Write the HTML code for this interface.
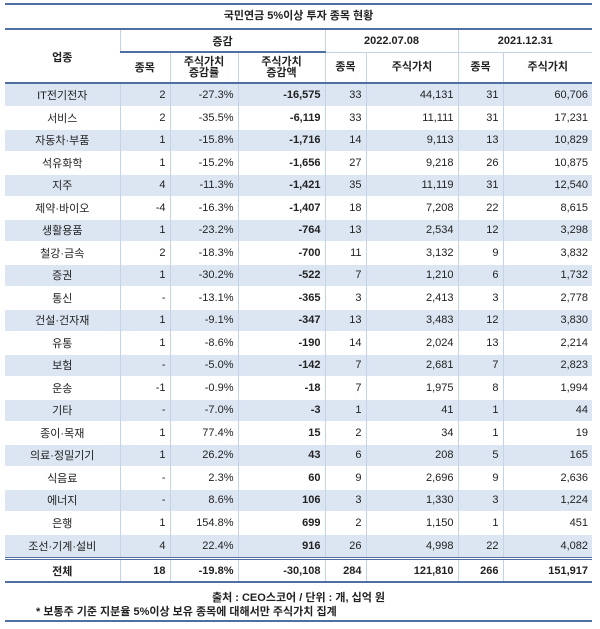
<!DOCTYPE html><html><head><meta charset="utf-8"><style>
body{margin:0;background:#fff;width:600px;height:629px;position:relative;font-family:"Liberation Sans","Noto Sans CJK KR","NanumGothic",sans-serif;color:#222;}
.t{position:absolute;left:5px;width:587px;border-collapse:collapse;table-layout:fixed;font-size:11px;}
.t td{padding:0 4px;white-space:nowrap;border-left:1px solid #c5d3e6;}
.t td:first-child{border-left:none;text-align:center;}
.r{text-align:right}.c{text-align:center}.b{font-weight:bold}
.line{position:absolute;left:5px;width:587px;background:#4f6fa3;}
</style></head><body>
<div class="line" style="top:3px;height:2px"></div>
<div style="position:absolute;top:6px;left:5px;width:587px;height:21px;line-height:21px;text-align:center;font-size:11px;font-weight:bold">국민연금 5%이상 투자 종목 현황</div>
<div class="line" style="top:28px;height:2px"></div>
<table class="t" style="top:30px">
<colgroup><col style="width:115px"><col style="width:50px"><col style="width:68px"><col style="width:87px"><col style="width:41px"><col style="width:92px"><col style="width:45px"><col style="width:89px"></colgroup>
<tr style="height:22px" class="b"><td rowspan="2" style="font-weight:bold">업종</td><td colspan="3" class="c" style="border-bottom:2px solid #4f6fa3">증감</td><td colspan="2" class="c" style="border-bottom:1px solid #c5d3e6">2022.07.08</td><td colspan="2" class="c" style="border-bottom:1px solid #c5d3e6">2021.12.31</td></tr>
<tr style="height:31px;line-height:11px" class="b"><td class="c">종목</td><td class="c">주식가치<br>증감률</td><td class="c">주식가치<br>증감액</td><td class="c">종목</td><td class="c">주식가치</td><td class="c">종목</td><td class="c">주식가치</td></tr>
</table>
<div class="line" style="top:82px;height:2px"></div>
<table class="t" style="top:84px" id="d">
<colgroup><col style="width:115px"><col style="width:50px"><col style="width:68px"><col style="width:87px"><col style="width:41px"><col style="width:92px"><col style="width:45px"><col style="width:89px"></colgroup>
<tr style="background:#dce6f2"><td>IT전기전자</td><td class="r">2</td><td class="r">-27.3%</td><td class="r b">-16,575</td><td class="r">33</td><td class="r">44,131</td><td class="r">31</td><td class="r">60,706</td></tr>
<tr><td>서비스</td><td class="r">2</td><td class="r">-35.5%</td><td class="r b">-6,119</td><td class="r">33</td><td class="r">11,111</td><td class="r">31</td><td class="r">17,231</td></tr>
<tr style="background:#dce6f2"><td>자동차·부품</td><td class="r">1</td><td class="r">-15.8%</td><td class="r b">-1,716</td><td class="r">14</td><td class="r">9,113</td><td class="r">13</td><td class="r">10,829</td></tr>
<tr><td>석유화학</td><td class="r">1</td><td class="r">-15.2%</td><td class="r b">-1,656</td><td class="r">27</td><td class="r">9,218</td><td class="r">26</td><td class="r">10,875</td></tr>
<tr style="background:#dce6f2"><td>지주</td><td class="r">4</td><td class="r">-11.3%</td><td class="r b">-1,421</td><td class="r">35</td><td class="r">11,119</td><td class="r">31</td><td class="r">12,540</td></tr>
<tr><td>제약·바이오</td><td class="r">-4</td><td class="r">-16.3%</td><td class="r b">-1,407</td><td class="r">18</td><td class="r">7,208</td><td class="r">22</td><td class="r">8,615</td></tr>
<tr style="background:#dce6f2"><td>생활용품</td><td class="r">1</td><td class="r">-23.2%</td><td class="r b">-764</td><td class="r">13</td><td class="r">2,534</td><td class="r">12</td><td class="r">3,298</td></tr>
<tr><td>철강·금속</td><td class="r">2</td><td class="r">-18.3%</td><td class="r b">-700</td><td class="r">11</td><td class="r">3,132</td><td class="r">9</td><td class="r">3,832</td></tr>
<tr style="background:#dce6f2"><td>증권</td><td class="r">1</td><td class="r">-30.2%</td><td class="r b">-522</td><td class="r">7</td><td class="r">1,210</td><td class="r">6</td><td class="r">1,732</td></tr>
<tr><td>통신</td><td class="r">-</td><td class="r">-13.1%</td><td class="r b">-365</td><td class="r">3</td><td class="r">2,413</td><td class="r">3</td><td class="r">2,778</td></tr>
<tr style="background:#dce6f2"><td>건설·건자재</td><td class="r">1</td><td class="r">-9.1%</td><td class="r b">-347</td><td class="r">13</td><td class="r">3,483</td><td class="r">12</td><td class="r">3,830</td></tr>
<tr><td>유통</td><td class="r">1</td><td class="r">-8.6%</td><td class="r b">-190</td><td class="r">14</td><td class="r">2,024</td><td class="r">13</td><td class="r">2,214</td></tr>
<tr style="background:#dce6f2"><td>보험</td><td class="r">-</td><td class="r">-5.0%</td><td class="r b">-142</td><td class="r">7</td><td class="r">2,681</td><td class="r">7</td><td class="r">2,823</td></tr>
<tr><td>운송</td><td class="r">-1</td><td class="r">-0.9%</td><td class="r b">-18</td><td class="r">7</td><td class="r">1,975</td><td class="r">8</td><td class="r">1,994</td></tr>
<tr style="background:#dce6f2"><td>기타</td><td class="r">-</td><td class="r">-7.0%</td><td class="r b">-3</td><td class="r">1</td><td class="r">41</td><td class="r">1</td><td class="r">44</td></tr>
<tr><td>종이·목재</td><td class="r">1</td><td class="r">77.4%</td><td class="r b">15</td><td class="r">2</td><td class="r">34</td><td class="r">1</td><td class="r">19</td></tr>
<tr style="background:#dce6f2"><td>의료·정밀기기</td><td class="r">1</td><td class="r">26.2%</td><td class="r b">43</td><td class="r">6</td><td class="r">208</td><td class="r">5</td><td class="r">165</td></tr>
<tr><td>식음료</td><td class="r">-</td><td class="r">2.3%</td><td class="r b">60</td><td class="r">9</td><td class="r">2,696</td><td class="r">9</td><td class="r">2,636</td></tr>
<tr style="background:#dce6f2"><td>에너지</td><td class="r">-</td><td class="r">8.6%</td><td class="r b">106</td><td class="r">3</td><td class="r">1,330</td><td class="r">3</td><td class="r">1,224</td></tr>
<tr><td>은행</td><td class="r">1</td><td class="r">154.8%</td><td class="r b">699</td><td class="r">2</td><td class="r">1,150</td><td class="r">1</td><td class="r">451</td></tr>
<tr style="background:#dce6f2"><td>조선·기계·설비</td><td class="r">4</td><td class="r">22.4%</td><td class="r b">916</td><td class="r">26</td><td class="r">4,998</td><td class="r">22</td><td class="r">4,082</td></tr>
</table>
<style>#d tr{height:22.5px}#d tr+tr td{border-top:1px solid #fff}</style>
<div class="line" style="top:557px;height:1px"></div>
<div class="line" style="top:559px;height:1px"></div>
<table class="t b" style="top:560px">
<colgroup><col style="width:115px"><col style="width:50px"><col style="width:68px"><col style="width:87px"><col style="width:41px"><col style="width:92px"><col style="width:45px"><col style="width:89px"></colgroup>
<tr style="height:21px"><td>전체</td><td class="r">18</td><td class="r">-19.8%</td><td class="r">-30,108</td><td class="r">284</td><td class="r">121,810</td><td class="r">266</td><td class="r">151,917</td></tr>
</table>
<div class="line" style="top:581px;height:2px"></div>
<div style="position:absolute;top:589px;left:5px;width:587px;text-align:center;font-size:11px;font-weight:bold">출처 : CEO스코어 / 단위 : 개, 십억 원</div>
<div style="position:absolute;top:603px;left:36px;font-size:11px;font-weight:bold">* 보통주 기준 지분율 5%이상 보유 종목에 대해서만 주식가치 집계</div>
<div class="line" style="top:620px;height:2px"></div>
</body></html>
